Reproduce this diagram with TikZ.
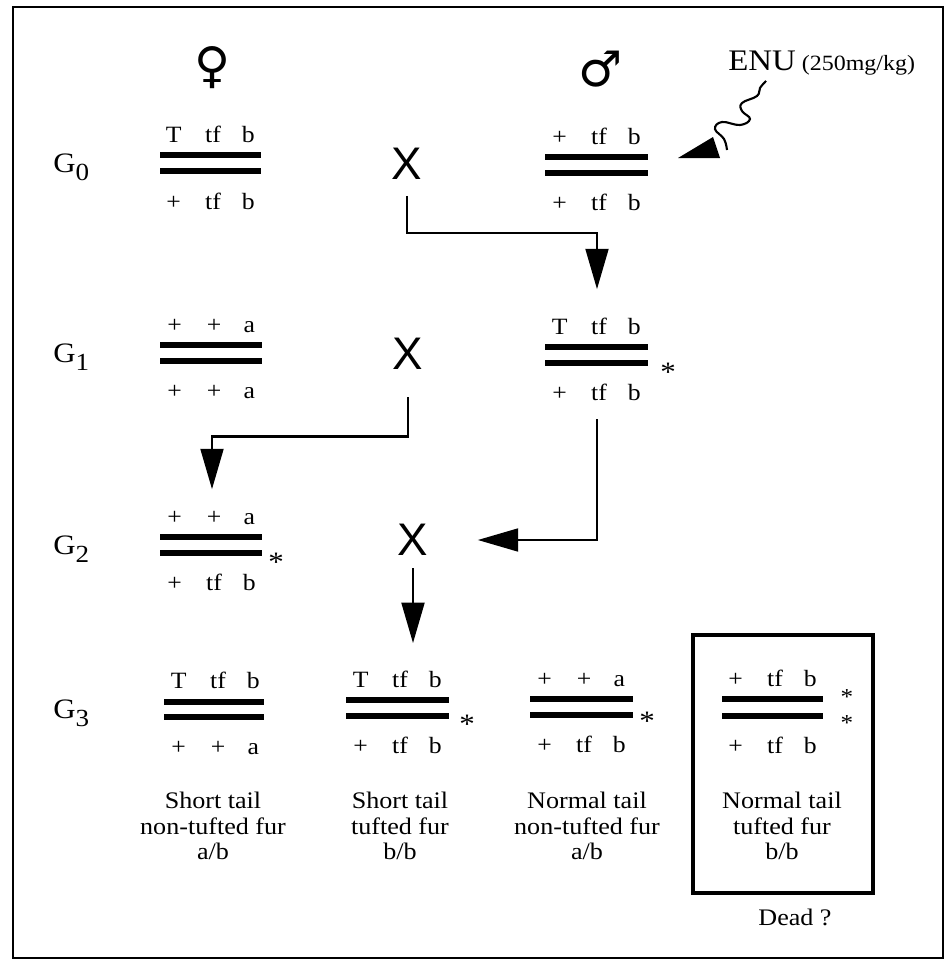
\documentclass[tikz,border=0pt]{standalone}
\usepackage{fontspec}
\setmainfont{Liberation Serif}[FakeStretch=1.1]
\setsansfont{Liberation Sans}
\newfontfamily\symbolfont{DejaVu Sans}
\usepackage{tikz}
\usetikzlibrary{arrows.meta}
\newcommand{\loci}[3]{\makebox[0pt]{\makebox[0pt]{#1}\hspace{22.4pt}\makebox[0pt]{#2}\hspace{20.1pt}\makebox[0pt]{#3}}}
\newcommand{\gen}[1]{G\raisebox{-5pt}{\fontsize{14}{14}\selectfont #1}}

\begin{document}
\begin{tikzpicture}[x=0.02cm,y=-0.02cm,line cap=butt,
  bar/.style={line width=3.2pt},
  allele/.style={anchor=base,inner sep=0pt,font=\fontsize{13.3}{15}\selectfont},
  cross/.style={inner sep=0pt,font=\sffamily\fontsize{26}{26}\selectfont},
  genlabel/.style={anchor=base west,inner sep=0pt,font=\fontsize{16}{16}\selectfont},
  starmark/.style={inner sep=0pt,font=\fontsize{16}{16}\selectfont},
  pheno/.style={align=center,inner sep=0pt,font=\fontsize{13.5}{14.6}\selectfont},
  sex/.style={inner sep=0pt,font=\symbolfont\fontsize{28}{28}\selectfont},
  arr/.style={line width=1.4pt,-{Triangle[length=23pt,width=13pt]}}]
\useasboundingbox (0,0) rectangle (945,963);
\draw[line width=1.3pt] (13,7) rectangle (943,958);

\node[sex] (fem) at (213,68) {♀};
\node[sex] (mal) at (601,69) {♂};
\node[anchor=base west,inner sep=0pt,font=\fontsize{17}{17}\selectfont] (enu) at (728,71) {ENU};
\node[anchor=base west,inner sep=0pt,font=\fontsize{12.4}{12.4}\selectfont] (dose) at ([xshift=3pt]enu.base east) {(250mg/kg)};

\node[genlabel] (g0) at (53,172) {\gen{0}};
\node[genlabel] (g1) at (53,362) {\gen{1}};
\node[genlabel] (g2) at (53,554) {\gen{2}};
\node[genlabel] (g3) at (53,718) {\gen{3}};

\node[cross] (x0) at (407,164) {X};
\node[cross] (x1) at (408,354) {X};
\node[cross] (x2) at (413,540) {X};

\draw[bar] (160,155) -- (261,155);
\draw[bar] (160,171) -- (261,171);
\node[allele] (f0t) at (211,142) {\loci{T}{tf}{b}};
\node[allele] (f0b) at (211,209) {\loci{+}{tf}{b}};

\draw[bar] (545,157) -- (648,157);
\draw[bar] (545,173) -- (648,173);
\node[allele] (m0t) at (597,144) {\loci{+}{tf}{b}};
\node[allele] (m0b) at (597,210) {\loci{+}{tf}{b}};

\draw[bar] (160,345) -- (262,345);
\draw[bar] (160,361) -- (262,361);
\node[allele] (f1t) at (212,332) {\loci{+}{+}{a}};
\node[allele] (f1b) at (212,398) {\loci{+}{+}{a}};

\draw[bar] (545,347) -- (648,347);
\draw[bar] (545,363) -- (648,363);
\node[allele] (m1t) at (597,334) {\loci{T}{tf}{b}};
\node[allele] (m1b) at (597,400) {\loci{+}{tf}{b}};
\node[starmark] (s1) at (668,372) {*};

\draw[bar] (160,537) -- (262,537);
\draw[bar] (160,553) -- (262,553);
\node[allele] (f2t) at (212,524) {\loci{+}{+}{a}};
\node[allele] (f2b) at (212,590) {\loci{+}{tf}{b}};
\node[starmark] (s2) at (276,562) {*};

\draw[bar] (164,702) -- (264,702);
\draw[bar] (164,717) -- (264,717);
\node[allele] (c1t) at (216,688) {\loci{T}{tf}{b}};
\node[allele] (c1b) at (216,754) {\loci{+}{+}{a}};

\draw[bar] (346,700) -- (449,700);
\draw[bar] (346,716) -- (449,716);
\node[allele] (c2t) at (398,687) {\loci{T}{tf}{b}};
\node[allele] (c2b) at (398,753) {\loci{+}{tf}{b}};
\node[starmark] (s3) at (467,724) {*};

\draw[bar] (530,699) -- (633,699);
\draw[bar] (530,715) -- (633,715);
\node[allele] (c3t) at (582,686) {\loci{+}{+}{a}};
\node[allele] (c3b) at (582,752) {\loci{+}{tf}{b}};
\node[starmark] (s4) at (647,721) {*};

\draw[bar] (722,699) -- (823,699);
\draw[bar] (722,716) -- (823,716);
\node[allele] (c4t) at (773,686) {\loci{+}{tf}{b}};
\node[allele] (c4b) at (773,753) {\loci{+}{tf}{b}};
\node[starmark,font=\fontsize{13}{13}\selectfont] (s5) at (847,697) {*};
\node[starmark,font=\fontsize{13}{13}\selectfont] (s6) at (847,723) {*};

\node[pheno] (p1) at (213,826) {Short tail\\non-tufted fur\\a/b};
\node[pheno] (p2) at (400,826) {Short tail\\tufted fur\\b/b};
\node[pheno] (p3) at (587,826) {Normal tail\\non-tufted fur\\a/b};
\node[pheno] (p4) at (782,826) {Normal tail\\tufted fur\\b/b};
\draw[line width=2.8pt] (693,635) rectangle (873,893);
\node[inner sep=0pt,font=\fontsize{13.5}{15}\selectfont] (dead) at (795,917) {Dead ?};

\draw[arr] ([yshift=-9pt]x0.south) -- ++(0,37) -| ([yshift=25.5pt]m1t.base);
\draw[arr] ([yshift=-15.5pt]x1.south) -- ++(0,39) -| ([yshift=19.8pt]f2t.base);
\draw[arr] ([yshift=-11pt]m1b.base) |- ([xshift=28pt]x2.east);
\draw[arr] ([yshift=-7pt]x2.south) -- ([yshift=25pt]x2.south |- c2t.base);

\draw[line width=1.2pt] plot[smooth,tension=0.7] coordinates {(766,81) (760,88) (757,96) (742,103) (742,111) (750,119) (740,125) (722,122) (715,129) (724,139) (727,150)};
\fill (678,158) -- (713,137) -- (720,158) -- cycle;
\end{tikzpicture}
\end{document}
